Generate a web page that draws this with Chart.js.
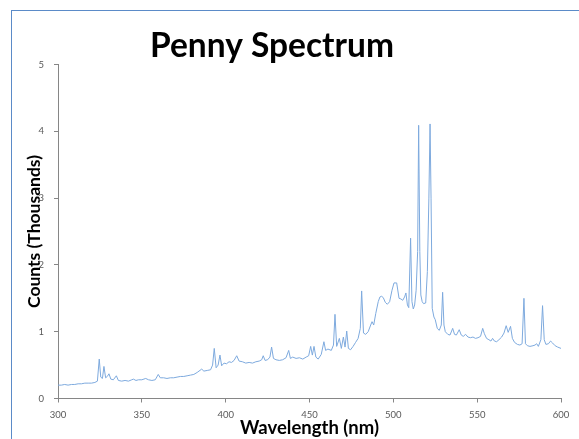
<!DOCTYPE html>
<html>
<head>
<meta charset="utf-8">
<script src="https://cdn.jsdelivr.net/npm/chart.js@4.4.0/dist/chart.umd.min.js"></script>
<style>
  html, body { margin: 0; padding: 0; background: #fff; overflow: hidden; }
  #wrap { position: relative; width: 579px; height: 439px; }
  #frame { position: absolute; left: 11px; top: 10px; right: -10px; bottom: -10px; border: 1px solid #5b8bc8; pointer-events: none; }
</style>
</head>
<body>
<div id="wrap">
  <canvas id="spectrum" width="579" height="439"></canvas>
  <div id="frame"></div>
</div>
<script>
// penny spectrum, counts in thousands vs wavelength in nm
const chartTitle = 'Penny Spectrum';
const xTitle = 'Wavelength (nm)';
const yTitle = 'Counts (Thousands)';

const wavelength = [
  300, 302, 304, 306, 308, 310, 312, 314, 316, 318, 320, 322, 323.5, 324.6, 325.5, 326.5, 327.4, 328.4, 329.4, 330.4,
  331.5, 333, 334.8, 336, 338, 340, 342, 344, 345, 346.5, 348, 350, 352.3, 354, 356, 358, 359.8, 361, 363, 365,
  367, 369, 371, 373, 375, 377, 379, 381, 383, 385.7, 387, 389, 391, 392.2, 393.2, 394.3, 395.5, 396.6, 397.6, 399,
  400.5, 402, 403.5, 405, 406.6, 408, 410, 412, 414, 416, 418, 420, 421.5, 422.4, 423.5, 425, 426.4, 427.4, 428.5, 430,
  432, 434, 436, 437.6, 438.6, 440, 442, 444, 446, 448, 449.5, 450.7, 451.7, 452.7, 453.8, 455.2, 457, 458.6, 459.6, 461,
  463, 464.3, 465.2, 466.2, 467.8, 469, 470.2, 471.2, 472.2, 473.2, 474.5, 476, 477.5, 479, 480.3, 481.1, 482.2, 483.5, 485, 486.5,
  487.3, 488.3, 489.5, 491, 492, 493, 494, 495.2, 496.4, 497.8, 499.2, 500.4, 502, 503.4, 504.5, 505.6, 506.7, 507.5, 508.4, 509.2,
  510.3, 511.1, 511.9, 512.7, 513.6, 514.5, 515.1, 515.8, 516.4, 517.2, 518, 519.3, 520.3, 521.2, 521.9, 522.5, 523.2, 524.2, 525, 526.2,
  527.4, 528.6, 529.4, 530.2, 531, 532.5, 533.8, 535.4, 536.5, 537.6, 539.3, 540.5, 541.7, 543.1, 544.5, 546, 547.5, 549, 550.5, 552,
  553.3, 554.3, 555.6, 557, 558.2, 559.2, 560.3, 561.6, 563, 564.6, 566, 567.3, 568.5, 569.9, 571, 572.3, 574, 575.5, 576.8, 577.9,
  578.8, 580, 581.5, 583.3, 584.5, 585.5, 586.5, 588, 589, 590, 591, 592.5, 593.8, 595, 596.5, 598, 600
];

const counts = [
  0.20, 0.20, 0.21, 0.20, 0.21, 0.21, 0.22, 0.22, 0.23, 0.23, 0.23, 0.24, 0.26, 0.59, 0.32, 0.30, 0.48, 0.31, 0.33, 0.37,
  0.29, 0.28, 0.34, 0.27, 0.26, 0.27, 0.26, 0.28, 0.29, 0.27, 0.28, 0.28, 0.30, 0.28, 0.27, 0.28, 0.36, 0.31, 0.31, 0.30,
  0.31, 0.31, 0.32, 0.33, 0.33, 0.34, 0.35, 0.36, 0.39, 0.44, 0.41, 0.42, 0.43, 0.50, 0.75, 0.46, 0.50, 0.65, 0.49, 0.53,
  0.52, 0.55, 0.54, 0.57, 0.64, 0.56, 0.55, 0.53, 0.54, 0.53, 0.55, 0.56, 0.58, 0.64, 0.57, 0.58, 0.62, 0.77, 0.60, 0.58,
  0.57, 0.58, 0.61, 0.72, 0.60, 0.62, 0.60, 0.61, 0.59, 0.62, 0.64, 0.78, 0.65, 0.78, 0.62, 0.59, 0.66, 0.85, 0.72, 0.74,
  0.72, 0.80, 1.26, 0.78, 0.90, 0.75, 0.92, 0.77, 1.01, 0.75, 0.73, 0.78, 0.84, 0.90, 1.05, 1.61, 0.98, 0.96, 1.00, 1.10,
  1.15, 1.10, 1.27, 1.45, 1.52, 1.53, 1.51, 1.44, 1.41, 1.45, 1.62, 1.73, 1.73, 1.50, 1.49, 1.47, 1.52, 1.58, 1.40, 1.36,
  2.40, 1.45, 1.34, 1.40, 1.62, 2.20, 4.09, 2.20, 1.55, 1.45, 1.42, 1.43, 1.90, 3.00, 4.11, 3.00, 1.35, 1.22, 1.18, 1.05,
  1.02, 1.10, 1.59, 1.10, 1.00, 0.96, 0.95, 1.05, 0.96, 0.95, 1.03, 0.95, 0.93, 0.96, 0.92, 0.91, 0.92, 0.90, 0.91, 0.93,
  1.05, 0.97, 0.90, 0.88, 0.86, 0.90, 0.86, 0.85, 0.88, 0.92, 0.98, 1.09, 0.99, 1.08, 0.90, 0.84, 0.81, 0.80, 0.82, 1.50,
  0.82, 0.79, 0.78, 0.79, 0.80, 0.82, 0.78, 0.88, 1.39, 0.88, 0.81, 0.82, 0.86, 0.83, 0.79, 0.77, 0.75
];

const xTicks = [300, 350, 400, 450, 500, 550, 600];
const yTicks = [0, 1, 2, 3, 4, 5];

const points = wavelength.map((w, i) => ({ x: w, y: counts[i] }));

const axisGray = '#868686';
const labelGray = '#595959';

// big bold heading, drawn over the canvas after the chart
const headingPlugin = {
  id: 'heading',
  afterDraw(chart) {
    const ctx = chart.ctx;
    ctx.save();
    ctx.font = 'bold 33.5px Lato';
    ctx.fillStyle = '#000';
    ctx.textAlign = 'center';
    ctx.textBaseline = 'alphabetic';
    ctx.fillText(chartTitle, 272, 57);
    ctx.restore();
  }
};

new Chart(document.getElementById('spectrum'), {
  type: 'line',
  data: {
    datasets: [{
      data: points,
      borderColor: '#7eaade',
      borderWidth: 1,
      pointRadius: 0,
      tension: 0,
      fill: false
    }]
  },
  options: {
    responsive: false,
    animation: false,
    events: [],
    layout: { padding: { top: 64.5, right: 18, bottom: 0, left: 0 } },
    plugins: {
      legend: { display: false },
      tooltip: { enabled: false },
      title: { display: false }
    },
    scales: {
      x: {
        type: 'linear',
        min: 300,
        max: 600,
        afterBuildTicks: s => { s.ticks = xTicks.map(v => ({ value: v })); },
        afterFit: s => { s.height = 40.5; },
        border: { display: true, color: axisGray, width: 1 },
        grid: { drawOnChartArea: false, drawTicks: true, tickLength: 4, color: axisGray },
        ticks: { color: labelGray, font: { family: 'Lato', size: 9.5 }, padding: 7, maxRotation: 0 },
        title: {
          display: true,
          text: xTitle,
          color: '#000',
          font: { family: 'Lato', size: 18.5, weight: 'bold' },
          padding: { top: 0, bottom: 0 }
        }
      },
      y: {
        min: 0,
        max: 5,
        afterBuildTicks: s => { s.ticks = yTicks.map(v => ({ value: v })); },
        afterFit: s => { s.width = 58; },
        border: { display: true, color: axisGray, width: 1 },
        grid: { drawOnChartArea: false, drawTicks: true, tickLength: 4, color: axisGray },
        ticks: { color: labelGray, font: { family: 'Lato', size: 9.5 }, padding: 10 },
        title: {
          display: true,
          text: yTitle,
          color: '#000',
          font: { family: 'Lato', size: 17.5, weight: 'bold' },
          padding: { top: 24, bottom: 0 }
        }
      }
    }
  },
  plugins: [headingPlugin]
});
</script>
</body>
</html>
